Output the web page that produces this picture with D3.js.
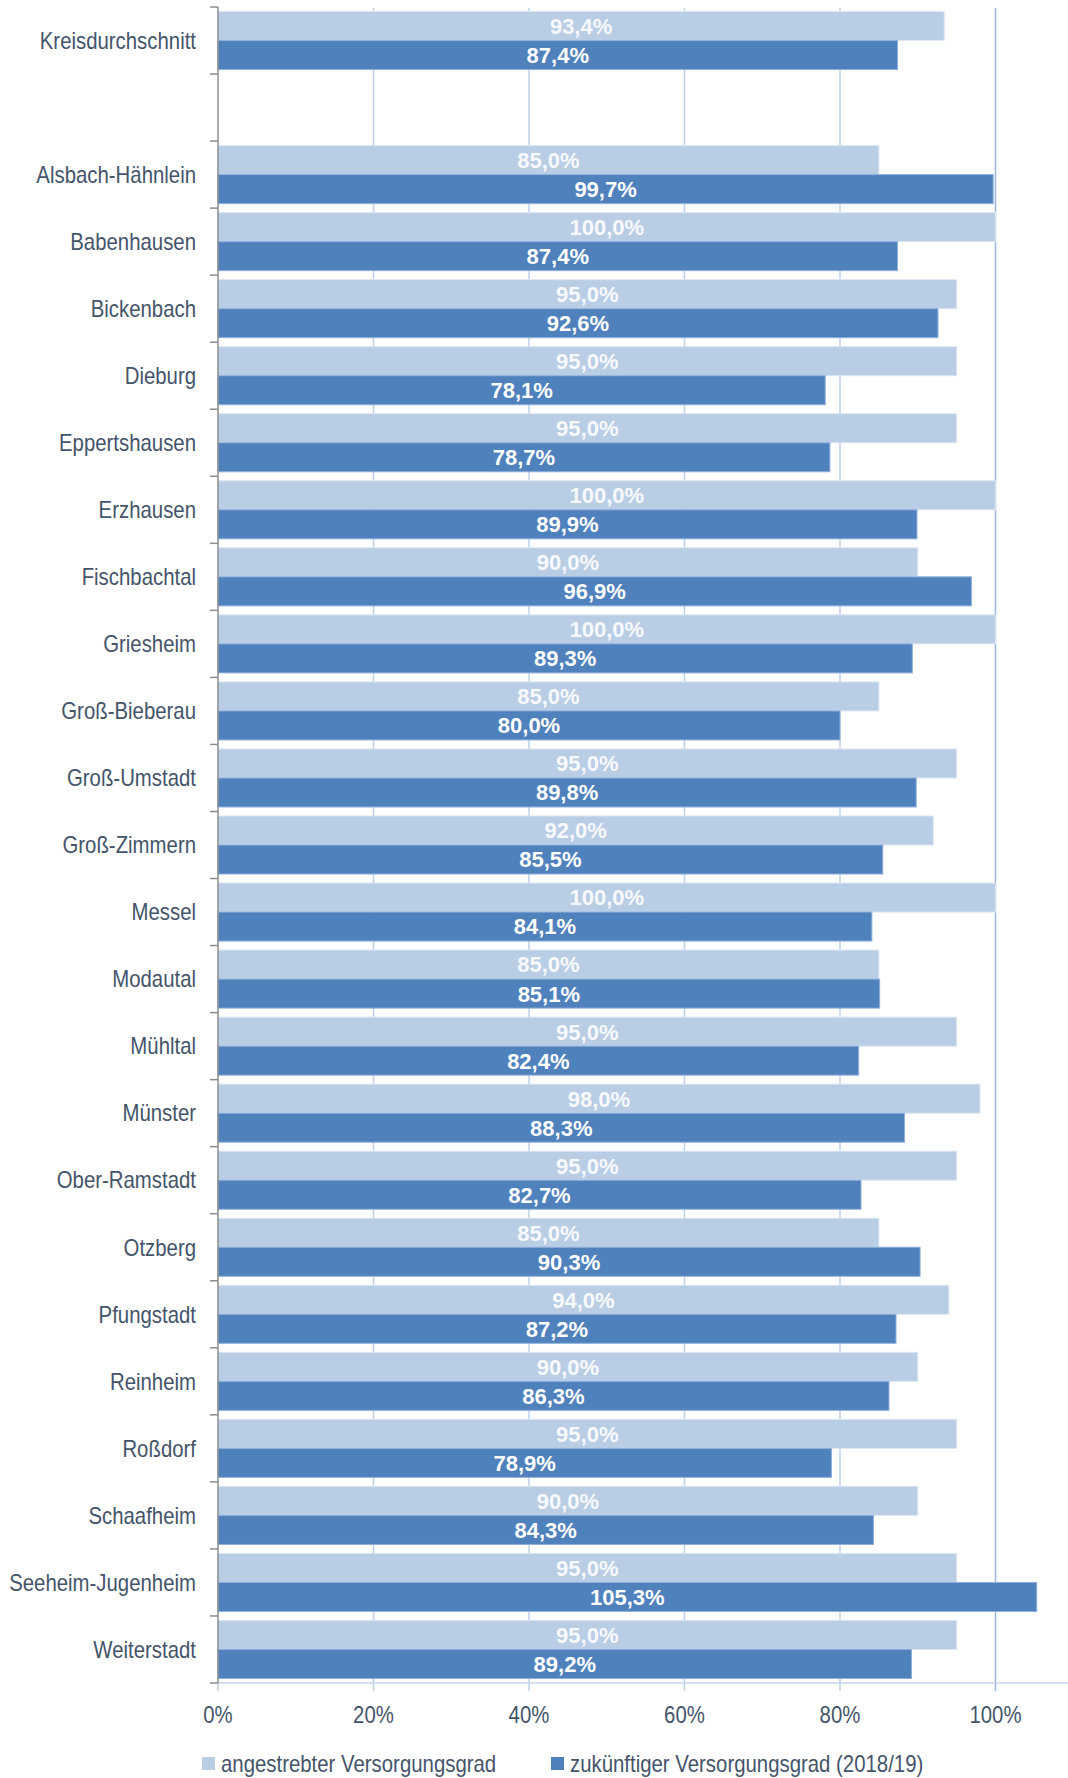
<!DOCTYPE html>
<html>
<head>
<meta charset="utf-8">
<script src="https://cdn.jsdelivr.net/npm/d3@7"></script>
<style>
  html, body { margin: 0; padding: 0; background: #ffffff; }
  svg { display: block; }
</style>
</head>
<body>
<div id="chart"></div>
<script>
// ---- data ----
const categories = [
  "Kreisdurchschnitt", "", "Alsbach-Hähnlein", "Babenhausen", "Bickenbach", "Dieburg",
  "Eppertshausen", "Erzhausen", "Fischbachtal", "Griesheim", "Groß-Bieberau",
  "Groß-Umstadt", "Groß-Zimmern", "Messel", "Modautal", "Mühltal", "Münster",
  "Ober-Ramstadt", "Otzberg", "Pfungstadt", "Reinheim", "Roßdorf", "Schaafheim",
  "Seeheim-Jugenheim", "Weiterstadt"
];
const angestrebt = [
  93.4, null, 85.0, 100.0, 95.0, 95.0, 95.0, 100.0, 90.0, 100.0, 85.0, 95.0, 92.0,
  100.0, 85.0, 95.0, 98.0, 95.0, 85.0, 94.0, 90.0, 95.0, 90.0, 95.0, 95.0
];
const zukuenftig = [
  87.4, null, 99.7, 87.4, 92.6, 78.1, 78.7, 89.9, 96.9, 89.3, 80.0, 89.8, 85.5,
  84.1, 85.1, 82.4, 88.3, 82.7, 90.3, 87.2, 86.3, 78.9, 84.3, 105.3, 89.2
];
const seriesNames = ["angestrebter Versorgungsgrad", "zukünftiger Versorgungsgrad (2018/19)"];
const xTicks = [0, 20, 40, 60, 80, 100];

(function () {
// ---- layout ----
const W = 1068, H = 1778;
const mLeft = 218, mTop = 7, mBottom = 1683;
const colors = ["#b9cde5", "#4f81bd"];
const strokes = ["#dce6f2", "#8eb0da"];
const textColor = "#44546a";
const narrow = 0.886;

const svg = d3.select("#chart").append("svg").attr("width", W).attr("height", H);

const keys = categories.map((c, i) => "k" + i);
const x = d3.scaleLinear().domain([0, 110]).range([mLeft, mLeft + 7.775 * 110]);
const y = d3.scaleBand().domain(keys).range([mTop, mBottom]).paddingInner(0.134).paddingOuter(0.067);
const bw = y.bandwidth();

const loc = d3.formatLocale({decimal: ",", thousands: ".", grouping: [3], currency: ["", "€"]});
const fmt = v => loc.format(".1f")(v) + "%";

// gridlines
svg.append("g").selectAll("line").data(xTicks.filter(t => t > 0)).join("line")
  .attr("x1", d => x(d)).attr("x2", d => x(d))
  .attr("y1", mTop + 1).attr("y2", mBottom + 8)
  .attr("stroke", d => d === 100 ? "#9ab7dd" : "#bcd0e8").attr("stroke-width", 1.5);

// bottom axis line
svg.append("line").attr("x1", mLeft).attr("x2", W).attr("y1", mBottom).attr("y2", mBottom)
  .attr("stroke", "#c6d6ec").attr("stroke-width", 1.5);
svg.append("line").attr("x1", x(0)).attr("x2", x(0)).attr("y1", mBottom).attr("y2", mBottom + 8)
  .attr("stroke", "#bcd0e8").attr("stroke-width", 1.5);

// bars
const rows = categories.map((c, i) => ({key: keys[i], name: c, a: angestrebt[i], z: zukuenftig[i]}))
  .filter(d => d.a !== null);

const g = svg.append("g");
const grp = g.selectAll("g.row").data(rows).join("g").attr("class", "row")
  .attr("transform", d => `translate(0,${y(d.key)})`);

grp.append("rect").attr("x", x(0)).attr("y", 0)
  .attr("width", d => x(d.a) - x(0)).attr("height", bw / 2)
  .attr("fill", colors[0]).attr("stroke", strokes[0]).attr("stroke-width", 1);
grp.append("rect").attr("x", x(0)).attr("y", bw / 2)
  .attr("width", d => x(d.z) - x(0)).attr("height", bw / 2)
  .attr("fill", colors[1]).attr("stroke", strokes[1]).attr("stroke-width", 1);

grp.append("text").attr("x", d => (x(0) + x(d.a)) / 2).attr("y", bw / 4)
  .attr("dy", "0.36em").attr("text-anchor", "middle")
  .attr("font-family", "Liberation Sans, Arial, sans-serif").attr("font-weight", "bold")
  .attr("font-size", 22).attr("fill", "#f8f9fc").text(d => fmt(d.a));
grp.append("text").attr("x", d => (x(0) + x(d.z)) / 2).attr("y", bw * 3 / 4)
  .attr("dy", "0.36em").attr("text-anchor", "middle")
  .attr("font-family", "Liberation Sans, Arial, sans-serif").attr("font-weight", "bold")
  .attr("font-size", 22).attr("fill", "#ffffff").text(d => fmt(d.z));

// left axis
svg.append("line").attr("x1", mLeft).attr("x2", mLeft).attr("y1", mTop).attr("y2", mBottom)
  .attr("stroke", "#8c8c8c").attr("stroke-width", 1.5);
const bounds = keys.map(k => y(k) - y.step() * y.paddingInner() / 2).concat([mBottom]);
svg.append("g").selectAll("line").data(bounds).join("line")
  .attr("x1", mLeft - 8).attr("x2", mLeft).attr("y1", d => d).attr("y2", d => d)
  .attr("stroke", "#8c8c8c").attr("stroke-width", 1.5);

// category labels
svg.append("g").selectAll("text").data(rows).join("text")
  .attr("transform", d => `translate(196,${y(d.key) + bw / 2}) scale(${narrow},1)`)
  .attr("dy", "0.36em").attr("text-anchor", "end")
  .attr("font-family", "Liberation Sans, Arial, sans-serif").attr("font-size", 23)
  .attr("fill", textColor).text(d => d.name);

// x tick labels
svg.append("g").selectAll("text").data(xTicks).join("text")
  .attr("transform", d => `translate(${x(d)},1715) scale(${narrow},1)`)
  .attr("dy", "0.36em").attr("text-anchor", "middle")
  .attr("font-family", "Liberation Sans, Arial, sans-serif").attr("font-size", 23)
  .attr("fill", textColor).text(d => d + "%");

// legend
const legX = [202, 551];
const leg = svg.append("g").selectAll("g").data(seriesNames).join("g")
  .attr("transform", (d, i) => `translate(${legX[i]},1757)`);
leg.append("rect").attr("width", 13).attr("height", 13).attr("fill", (d, i) => colors[i]);
leg.append("text").attr("transform", `translate(19,7) scale(${narrow},1)`).attr("dy", "0.36em")
  .attr("font-family", "Liberation Sans, Arial, sans-serif").attr("font-size", 23)
  .attr("fill", textColor).text(d => d);
})();
</script>
</body>
</html>
